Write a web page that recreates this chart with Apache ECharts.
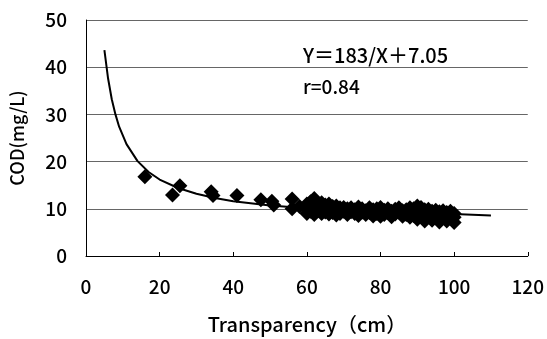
<!DOCTYPE html>
<html>
<head>
<meta charset="utf-8">
<script src="https://cdn.jsdelivr.net/npm/echarts@6/dist/echarts.min.js"></script>
<style>
html,body{margin:0;padding:0;background:#fff;}
#chart{width:547px;height:339px;}
</style>
</head>
<body>
<div id="chart"></div>
<script>
// Fitted curve Y=183/X+7.05
var curveX = [5, 6, 7, 8, 9, 11, 14, 17, 20, 25, 30, 35, 40, 50, 60, 70, 80, 90, 100, 110];
var curveY = [43.6, 37.6, 33.2, 30.0, 27.4, 23.7, 20.1, 17.8, 16.2, 14.4, 13.2, 12.3, 11.6, 10.7, 10.1, 9.7, 9.3, 9.1, 8.9, 8.6];

// Observed points (transparency cm, COD mg/L)
var obsX = [16, 23.5, 25.5, 34, 34.5, 41, 47.5, 50.5, 51, 56, 56, 58,
  60, 60, 60, 61, 61, 62, 62, 62, 63, 63, 64, 64, 64, 65, 65, 66, 66, 66, 67, 67, 68, 68, 68, 69, 69,
  70, 70, 71, 71, 72, 72, 73, 73, 74, 74, 75, 75, 76, 76, 77, 77, 78, 78, 79, 79,
  80, 80, 80, 81, 81, 82, 82, 83, 83, 84, 84, 85, 85, 86, 86, 87, 87, 88, 88, 88, 89, 89,
  90, 90, 90, 91, 91, 91, 92, 92, 92, 93, 93, 94, 94, 94, 95, 95, 96, 96, 96, 97, 97, 98, 98, 98, 99, 99,
  100, 100, 100];
var obsY = [16.8, 12.9, 14.9, 13.6, 12.8, 12.8, 11.9, 11.6, 10.8, 12.1, 10.0, 10.5,
  11.0, 9.0, 10.0, 11.5, 9.5, 12.2, 10.5, 8.8, 11.0, 9.6, 11.3, 10.2, 9.0, 10.8, 9.3, 11.0, 9.8, 8.9, 10.5, 9.2, 10.6, 9.7, 8.7, 10.2, 9.0,
  10.3, 9.5, 10.0, 8.8, 10.2, 9.4, 9.8, 9.0, 10.4, 8.6, 10.0, 9.3, 9.6, 8.8, 10.2, 9.2, 9.8, 8.5, 10.0, 9.0,
  10.3, 9.5, 8.4, 9.7, 8.8, 10.0, 9.2, 9.5, 8.3, 9.9, 8.9, 10.2, 9.3, 9.6, 8.4, 9.8, 8.8, 10.2, 9.4, 8.2, 10.0, 8.6,
  10.6, 9.2, 7.8, 10.3, 9.6, 8.5, 9.8, 8.8, 7.4, 9.9, 9.0, 9.5, 8.3, 7.6, 9.7, 8.9, 9.4, 8.2, 7.2, 9.6, 8.7, 9.2, 8.0, 7.4, 9.5, 8.5,
  9.0, 8.2, 7.1];

var xTicks = [0, 20, 40, 60, 80, 100, 120];
var yTicks = [0, 10, 20, 30, 40, 50];
var equationText = 'Y＝183/X＋7.05';
var rText = 'r=0.84';
var xName = 'Transparency（cm）';
var yName = 'COD(mg/L)';

var curveData = curveX.map(function (x, i) { return [x, curveY[i]]; });
var obsData = obsX.map(function (x, i) { return [x, obsY[i]]; });

var font = '"Noto Sans CJK JP", "Noto Sans", sans-serif';
var chart = echarts.init(document.getElementById('chart'));
chart.setOption({
  animation: false,
  backgroundColor: '#fff',
  grid: { left: 85, right: 19, top: 20, bottom: 81 },
  xAxis: {
    type: 'value', min: xTicks[0], max: xTicks[xTicks.length - 1], interval: 20,
    axisLine: { lineStyle: { color: '#000', width: 1 } },
    axisTick: { inside: true, length: 4, lineStyle: { color: '#000' } },
    axisLabel: { color: '#000', fontSize: 19, fontWeight: 500, fontFamily: font, margin: 21 },
    splitLine: { show: false },
    name: xName, nameLocation: 'middle', nameGap: 58,
    nameTextStyle: { color: '#000', fontSize: 20, fontWeight: 500, fontFamily: font }
  },
  yAxis: {
    type: 'value', min: yTicks[0], max: yTicks[yTicks.length - 1], interval: 10,
    axisLine: { show: true, lineStyle: { color: '#000', width: 1 } },
    axisTick: { show: false },
    axisLabel: { color: '#000', fontSize: 19, fontWeight: 500, fontFamily: font, margin: 19 },
    splitLine: { show: true, lineStyle: { color: '#666', width: 1 } },
    name: yName, nameLocation: 'middle', nameGap: 60, nameRotate: 90,
    nameTextStyle: { color: '#000', fontSize: 18, fontWeight: 500, fontFamily: font }
  },
  graphic: [
    { type: 'text', left: 303, top: 45, style: { text: equationText, fill: '#000', font: '500 20px ' + font } },
    { type: 'text', left: 303, top: 77, style: { text: rText, fill: '#000', font: '500 19px ' + font } }
  ],
  series: [
    {
      type: 'line', data: curveData, showSymbol: false, symbol: 'none', smooth: false,
      lineStyle: { color: '#000', width: 2 }, z: 2
    },
    {
      type: 'scatter', data: obsData, symbol: 'diamond', symbolSize: 15,
      itemStyle: { color: '#000', opacity: 1 }, z: 3
    }
  ]
});
</script>
</body>
</html>
